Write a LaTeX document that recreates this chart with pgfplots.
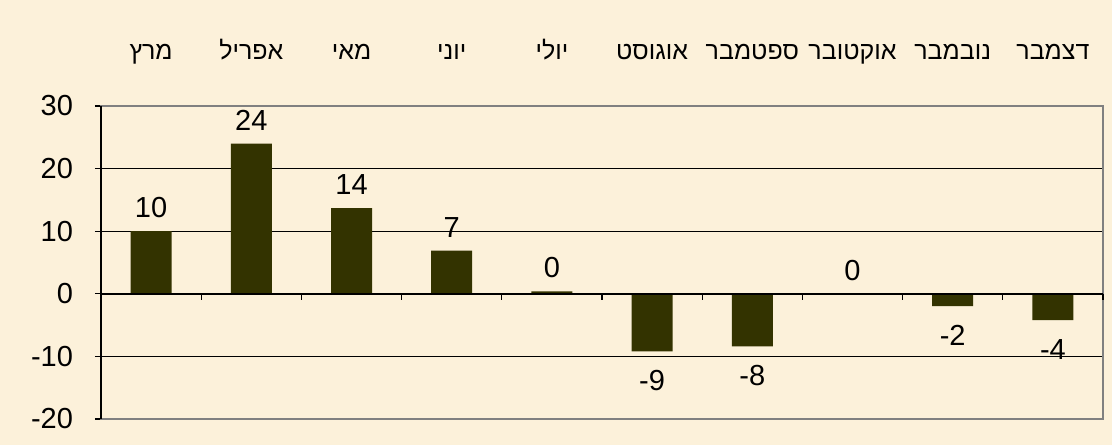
\documentclass[border=0pt]{standalone}
\usepackage{pgfplots}
\pgfplotsset{compat=1.18}
\usepackage{pgfplotstable}
\usepackage{fontspec}
\setmainfont{Liberation Sans}
\newfontfamily\hebfont[Script=Hebrew]{Liberation Sans}
\TeXXeTstate=1
\definecolor{bgc}{HTML}{FCF1DA}
\definecolor{barc}{HTML}{333300}
\pgfplotstableread{
x y
0 10
1 24
2 13.7
3 6.9
4 0.4
5 -9.2
6 -8.4
7 0
8 -1.95
9 -4.2
}\data
\begin{document}
\begin{tikzpicture}
\fill[bgc] (-50.5pt,-13pt) rectangle (505.5pt,209.5pt);
\useasboundingbox (-50.5pt,-13pt) rectangle (505.5pt,209.5pt);
\begin{axis}[at={(0,0)}, anchor=south west, scale only axis,
  width=501pt, height=156.5pt,
  xmin=-0.5, xmax=9.5, ymin=-20, ymax=30,
  ytick={-20,-10,...,30}, ymajorgrids,
  grid style={black, line width=0.5pt},
  axis line style={gray, line width=0.8pt},
  ytick pos=left, tick align=outside, major tick length=3pt,
  y tick style={black, line width=0.6pt},
  yticklabel style={font=\fontsize{14.5}{14.5}\selectfont, xshift=-7.5pt},
  /pgf/number format/assume math mode=true,
  xtick={0,...,9}, xticklabel pos=right, x tick style={draw=none},
  xticklabels={\beginR מרץ\endR, \beginR אפריל\endR, \beginR מאי\endR, \beginR יוני\endR, \beginR יולי\endR, \beginR אוגוסט\endR, \beginR ספטמבר\endR, \beginR אוקטובר\endR, \beginR נובמבר\endR, \beginR דצמבר\endR},
  xticklabel style={font=\hebfont\fontsize{12.5}{12.5}\selectfont, anchor=base, yshift=20.5pt},
  ybar, bar width=20.5pt, bar shift=0pt,
  nodes near coords={\pgfmathprintnumber[fixed,precision=0]{\pgfplotspointmeta}},
  nodes near coords align={vertical},
  visualization depends on={y \as \rawy},
  every node near coord/.append style={font=\fontsize{14.5}{14.5}\selectfont, black, yshift={\rawy<0 ? -6 : 3}},
  clip=false,
]
\addplot[fill=barc, draw=none] table[x=x, y=y] {\data};
\draw[black, line width=0.8pt] (rel axis cs:0,0) -- (rel axis cs:0,1);
\draw[black, line width=0.8pt] (axis cs:-0.5,0) -- (axis cs:9.5,0);
\pgfplotsinvokeforeach{-0.5,0.5,...,9.5}{\draw[black, line width=0.6pt] (axis cs:#1,0) -- ([yshift=-3pt]axis cs:#1,0);}
\draw[black, line width=0.6pt] (axis cs:-0.5,0) -- ([xshift=-3pt]axis cs:-0.5,0);
\end{axis}
\end{tikzpicture}
\end{document}
